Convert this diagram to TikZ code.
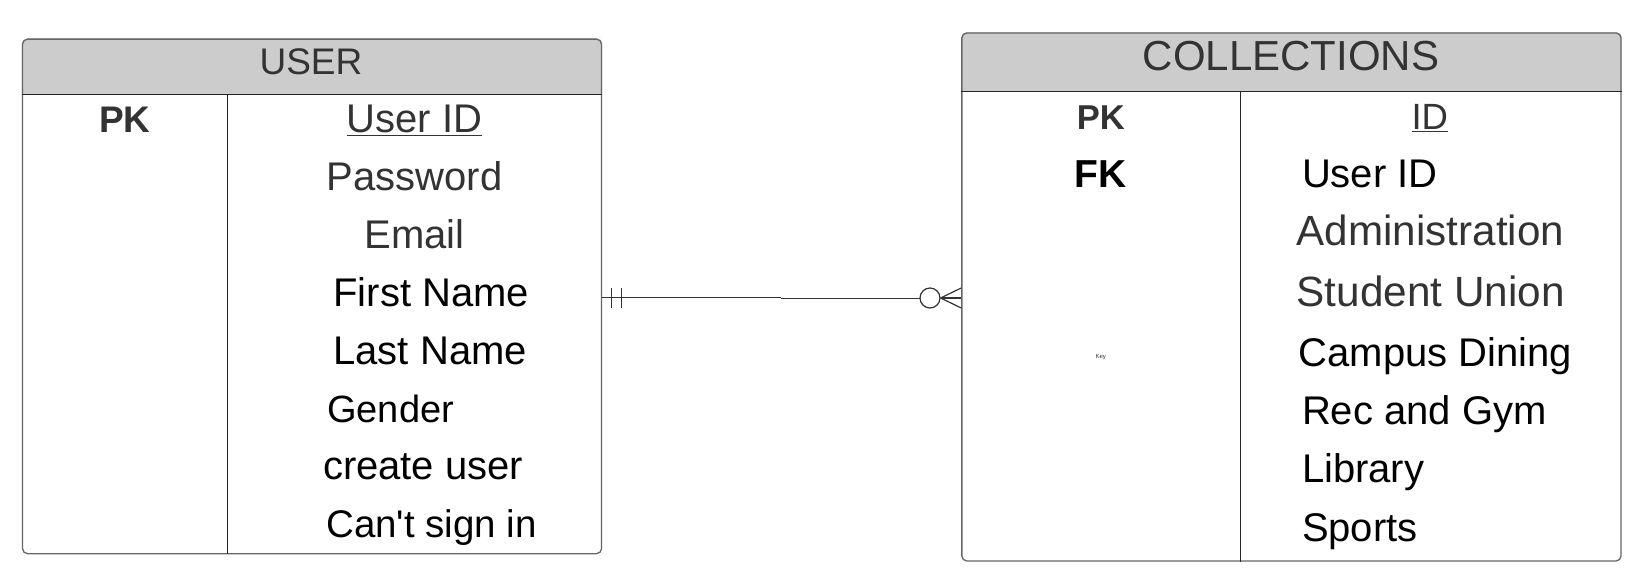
\documentclass[tikz,border=0pt]{standalone}
\usepackage{fontspec}
\setmainfont{Liberation Sans}
\usetikzlibrary{backgrounds}
\definecolor{headgrey}{HTML}{CCCCCC}
\definecolor{txtgrey}{HTML}{333333}
\definecolor{bordergrey}{HTML}{666666}
\tikzset{
  tbl/.style={draw=bordergrey, line width=1.3pt, rounded corners=5pt, inner sep=0pt, anchor=north west},
  sepline/.style={draw=black!85, line width=1pt},
  conn/.style={draw=black!80, line width=1.2pt},
  fld/.style={font=\fontsize{40}{40}\selectfont, inner sep=0pt},
  fldc/.style={fld, anchor=base},
  fldl/.style={fld, anchor=base west},
  keyb/.style={font=\fontsize{37}{37}\selectfont\bfseries, inner sep=0pt, anchor=base},
}
\begin{document}
\begin{tikzpicture}[x=1pt,y=-1pt]
\useasboundingbox (0,0) rectangle (1633,580);
\begin{scope}[on background layer]
\fill[white] (0,0) rectangle (1633,580);
\end{scope}

% ---------- USER table ----------
\node[tbl, minimum width=579pt, minimum height=514.5pt] (user) at (21.9,38.5) {};
\begin{scope}[on background layer]
  \fill[headgrey] (user.west |- 0,94.8) [rounded corners=5pt] -- (user.north west) -- (user.north east) [sharp corners] -- (user.east |- 0,94.8) -- cycle;
\end{scope}
\draw[sepline] (user.west |- 0,94.8) -- (user.east |- 0,94.8);
\draw[sepline] (227,94.8) -- (227 ,0 |- user.south);
\node[inner sep=0pt, anchor=base, text=txtgrey, font=\fontsize{37}{37}\selectfont] (usertitle) at (311,74.2) {USER};
\node[keyb, text=txtgrey] (upk) at (125,133) {PK};
\node[fldc, text=txtgrey] (uid) at (414.5,133) {\underline{User ID}};
\node[fldc, text=txtgrey] (upw) at (414.5,190.8) {Password};
\node[fldc, text=txtgrey] (uem) at (414.5,248.6) {Email};
\node[fldl] (ufn) at (333.3,306.4) {First Name};
\node[fldl] (uln) at (333.3,364.2) {Last Name};
\node[fldl, font=\fontsize{38}{38}\selectfont] (ugn) at (327,422) {Gender};
\node[fldl] (ucu) at (322.8,479.8) {create user};
\node[fldl, font=\fontsize{38.5}{38.5}\selectfont] (ucs) at (326,537.6) {Can\textquotesingle t sign in};

% ---------- COLLECTIONS table ----------
\node[tbl, minimum width=659.2pt, minimum height=528pt] (coll) at (961.2,32.3) {};
\begin{scope}[on background layer]
  \fill[headgrey] (coll.west |- 0,91.6) [rounded corners=5pt] -- (coll.north west) -- (coll.north east) [sharp corners] -- (coll.east |- 0,91.6) -- cycle;
\end{scope}
\draw[sepline] (coll.west |- 0,91.6) -- (coll.east |- 0,91.6);
\draw[sepline] (1240.3,91.6) -- (1240.3,0 |- coll.south);
\node[inner sep=0pt, anchor=base, text=txtgrey, font=\fontsize{42}{42}\selectfont] (colltitle) at (1291,71) {COLLECTIONS};
\node[font=\fontsize{34.5}{34.5}\selectfont\bfseries, inner sep=0pt, anchor=base, text=txtgrey] (cpk) at (1100.7,130) {PK};
\node[keyb, font=\fontsize{39}{39}\selectfont\bfseries] (cfk) at (1100.7,187.2) {FK};
\node[fldc, font=\fontsize{36.5}{36.5}\selectfont, text=txtgrey] (cid) at (1429.8,130) {\underline{ID}};
\node[fldl] (cuid) at (1301.8,187.2) {User ID};
\node[fldl, text=txtgrey, font=\fontsize{42.2}{42.2}\selectfont] (cadm) at (1296.5,245.5) {Administration};
\node[fldl, text=txtgrey, font=\fontsize{42.3}{42.3}\selectfont] (csu) at (1296.5,306.9) {Student Union};
\node[fldl] (ccd) at (1298.6,366.3) {Campus Dining};
\node[fldl] (crg) at (1301.8,424.6) {Rec and Gym};
\node[fldl] (clib) at (1301.8,482.9) {Library};
\node[fldl] (csp) at (1301.8,541.3) {Sports};
\node[inner sep=0pt, font=\fontsize{6}{6}\selectfont, text=txtgrey] (ckey) at (1100.7,357.2) {Key};

% ---------- relationship ----------
\coordinate (step) at (781,297.3);
\draw[conn] (user.east |- 0,297.3) -- (step);
\draw[conn] (781,298.3) -- (920,298.3);
\node[draw=black!80, line width=1.2pt, circle, minimum size=20pt, inner sep=0pt] (circ) at (930,298) {};
\draw[conn] (611.7,288) -- (611.7,307.7);
\draw[conn] (621.7,288) -- (621.7,307.7);
\draw[conn] (circ.east) -- (coll.west |- 0,288);
\draw[conn] (circ.east) -- (coll.west |- 0,298);
\draw[conn] (circ.east) -- (coll.west |- 0,308);
\end{tikzpicture}
\end{document}
